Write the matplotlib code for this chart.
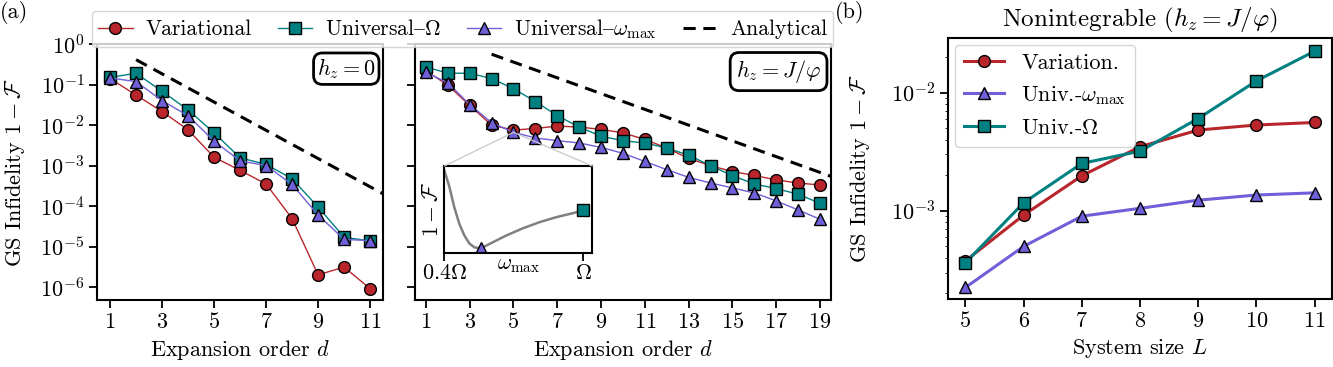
import matplotlib
matplotlib.use("Agg")
import matplotlib.pyplot as plt
from matplotlib.patches import ConnectionPatch
import numpy as np

plt.rcParams['font.family'] = ['cmr10', 'DejaVu Serif']
plt.rcParams['mathtext.fontset'] = 'cm'
plt.rcParams['axes.formatter.use_mathtext'] = True
plt.rcParams['font.size'] = 15.5
plt.rcParams['axes.linewidth'] = 1.5
plt.rcParams['xtick.major.width'] = 1.3
plt.rcParams['ytick.major.width'] = 1.3
plt.rcParams['xtick.major.size'] = 5.5
plt.rcParams['ytick.major.size'] = 5.5
plt.rcParams['xtick.labelsize'] = 16
plt.rcParams['ytick.labelsize'] = 16

RED = '#b8262c'
TEAL = '#008080'
PURPLE = '#6f5fd8'

# (a) h_z = 0
d_a = np.arange(1, 12)
var_a = [0.14, 0.055, 0.0215, 0.0076, 0.0016, 7.6e-4, 3.5e-4, 4.9e-5, 2.0e-6, 3.1e-6, 9.1e-7]
omega_a = [0.15, 0.189, 0.068, 0.0236, 0.0064, 0.00155, 0.00107, 4.7e-4, 9.4e-5, 1.7e-5, 1.37e-5]
wmax_a = [0.145, 0.118, 0.040, 0.017, 0.004, 0.0013, 0.001, 3.4e-4, 6e-5, 1.5e-5, 1.4e-5]
ana_a_d = [2, 11.5]
ana_a = [0.41, 2.0e-4]

# (a) h_z = J/phi
d_b = np.arange(1, 20)
var_b = [0.22, 0.096, 0.0306, 0.0099, 0.0075, 0.0082, 0.0094, 0.0089, 0.0078, 0.0064,
         0.0044, 0.0027, 0.0015, 0.00099, 7.1e-4, 5.7e-4, 4.4e-4, 3.7e-4, 3.3e-4]
omega_b = [0.27, 0.19, 0.19, 0.14, 0.079, 0.038, 0.017, 0.0089, 0.0053, 0.0041,
           0.0036, 0.0027, 0.0018, 0.00099, 5.6e-4, 3.5e-4, 2.7e-4, 1.95e-4, 1.17e-4]
wmax_b = [0.20, 0.11, 0.032, 0.0114, 0.0066, 0.0048, 0.0041, 0.0036, 0.0028, 0.0020,
          0.00126, 7.9e-4, 5.1e-4, 3.7e-4, 2.8e-4, 2.1e-4, 1.34e-4, 8.0e-5, 4.7e-5]
ana_b_d = [4, 19.5]
ana_b = [0.56, 5.4e-4]

# inset: infidelity vs omega_max (arb. units)
inset_w = [0.400, 0.422, 0.443, 0.465, 0.487, 0.508, 0.530, 0.559, 0.595, 0.667,
           0.740, 0.812, 0.884, 0.957, 1.000]
inset_f = [0.954, 0.762, 0.531, 0.338, 0.204, 0.115, 0.069, 0.058, 0.108, 0.204,
           0.288, 0.358, 0.415, 0.462, 0.492]
inset_opt = (0.559, 0.058)
inset_end = (1.0, 0.492)

# (b) system size
L = np.arange(5, 12)
var_L = [3.77e-4, 9.2e-4, 1.98e-3, 3.49e-3, 4.83e-3, 5.33e-3, 5.6e-3]
wmax_L = [2.24e-4, 5.0e-4, 9.0e-4, 1.05e-3, 1.23e-3, 1.36e-3, 1.42e-3]
omega_L = [3.63e-4, 1.17e-3, 2.52e-3, 3.2e-3, 6.05e-3, 1.26e-2, 2.25e-2]

fig = plt.figure(figsize=(13.33, 3.67), dpi=100)
ax1 = fig.add_axes([0.0728, 0.1826, 0.2146, 0.6975])
ax2 = fig.add_axes([0.3113, 0.1826, 0.3121, 0.6975], sharey=ax1)
ax3 = fig.add_axes([0.7112, 0.1853, 0.2881, 0.7112])

ms = 8.5
kw = dict(lw=1.0, ms=ms, mec='black', mew=1.0)

# "{" is the en dash slot of the cmr10 font
def panel(ax, d, var, omega, wmax, ad, an):
    ax.plot(d, var, 'o-', color=RED, mfc=RED, label='Variational', **kw)
    ax.plot(d, omega, 's-', color=TEAL, mfc=TEAL, label=r'Universal{$\Omega$', **kw)
    ax.plot(d, wmax, '^-', color=PURPLE, mfc=PURPLE, label=r'Universal{$\omega_{\max}$', **kw)
    ax.plot(ad, an, '--', color='black', lw=2.2, dashes=(4, 2.5), label='Analytical')
    ax.set_yscale('log')
    ax.minorticks_off()
    ax.set_xlabel('Expansion order $d$', fontsize=16)

panel(ax1, d_a, var_a, omega_a, wmax_a, ana_a_d, ana_a)
panel(ax2, d_b, var_b, omega_b, wmax_b, ana_b_d, ana_b)
ax1.set_xlim(0.5, 11.5)
ax1.set_xticks([1, 3, 5, 7, 9, 11])
ax2.set_xlim(0.5, 19.5)
ax2.set_xticks(np.arange(1, 20, 2))
ax1.set_ylim(10**-6.32, 1)
ax1.set_yticks([10.0**k for k in range(-6, 1)])
ax1.set_ylabel(r'GS Infidelity $1-\mathcal{F}$', fontsize=16)
ax1.yaxis.set_label_coords(-0.245, 0.5)
plt.setp(ax2.get_yticklabels(), visible=False)

ax1.text(0.974, 0.952, r'$h_z = 0$', transform=ax1.transAxes, ha='right', va='top', fontsize=16,
         bbox=dict(boxstyle='round,pad=0.15,rounding_size=0.4', fc='white', ec='black', lw=2))
ax2.text(0.977, 0.945, r'$h_z = J/\varphi$', transform=ax2.transAxes, ha='right', va='top', fontsize=16,
         bbox=dict(boxstyle='round,pad=0.25,rounding_size=0.4', fc='white', ec='black', lw=2))

# inset
axi = ax2.inset_axes([0.0705, 0.182, 0.356, 0.341])
axi.plot(inset_w, inset_f, color='#808080', lw=1.8)
axi.plot(*inset_opt, '^', color=PURPLE, ms=ms, mec='black', mew=1.0)
axi.plot(*inset_end, 's', color=TEAL, ms=ms, mec='black', mew=1.0)
axi.set_xlim(0.4, 1.04)
axi.set_ylim(0, 1)
axi.set_yticks([])
axi.set_xticks([0.4, 1.0])
axi.set_xticklabels([r'$0.4\Omega$', r'$\Omega$'])
axi.tick_params(axis='x', pad=2)
axi.set_xlabel(r'$\omega_{\max}$', labelpad=-20)
axi.set_ylabel(r'$1-\mathcal{F}$', labelpad=2)
for corner in [(0, 1), (1, 1)]:
    con = ConnectionPatch(xyA=corner, coordsA=axi.transAxes, xyB=(5, wmax_b[4]), coordsB=ax2.transData,
                          color='#c8c8c8', lw=0.9, zorder=0.5)
    fig.add_artist(con)

# top legend
h, lab = ax1.get_legend_handles_labels()
fig.legend(h, lab, loc='upper center', bbox_to_anchor=(0.347, 1.0), ncol=4, fontsize=15.5,
           handlelength=1.6, columnspacing=1.2, handletextpad=0.6, borderpad=0.3)

# (b)
lw3 = 2.2
ax3.plot(L, var_L, 'o-', color=RED, mfc=RED, lw=lw3, ms=ms, mec='black', mew=1.0, label='Variation.')
ax3.plot(L, wmax_L, '^-', color=PURPLE, mfc=PURPLE, lw=lw3, ms=ms, mec='black', mew=1.0,
         label=r'Univ.-$\omega_{\max}$')
ax3.plot(L, omega_L, 's-', color=TEAL, mfc=TEAL, lw=lw3, ms=ms, mec='black', mew=1.0, label=r'Univ.-$\Omega$')
ax3.set_yscale('log')
ax3.set_xlim(4.7, 11.3)
ax3.set_ylim(1.79e-4, 2.91e-2)
ax3.set_xticks(L)
ax3.set_xlabel('System size $L$', fontsize=16)
ax3.set_ylabel(r'GS Infidelity $1-\mathcal{F}$', fontsize=16)
ax3.yaxis.set_label_coords(-0.198, 0.5)
ax3.set_title(r'Nonintegrable ($h_z = J/\varphi$)', fontsize=18, pad=8)
ax3.legend(loc='upper left', fontsize=16, handlelength=1.8, borderaxespad=0.3)

fig.text(0.0, 0.965, '(a)', fontsize=16, va='center')
fig.text(0.626, 0.965, '(b)', fontsize=16, va='center')

fig.savefig('out.png', dpi=100)
